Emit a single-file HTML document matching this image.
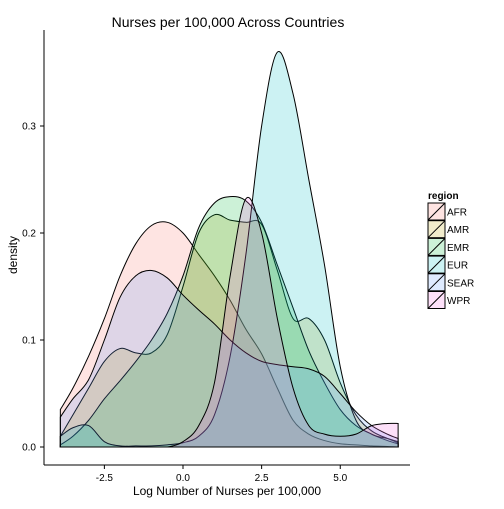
<!DOCTYPE html>
<html><head><meta charset="utf-8"><style>
body{margin:0;background:#fff;font-family:"Liberation Sans",sans-serif}
svg text{font-family:"Liberation Sans",sans-serif}
</style></head><body>
<svg id="chart" width="504" height="504" xmlns="http://www.w3.org/2000/svg">
<text x="228" y="27" font-size="14" text-anchor="middle">Nurses per 100,000 Across Countries</text>
<g id="plot"></g>
<line x1="44" y1="30" x2="44" y2="465" stroke="#000" stroke-width="1"/>
<line x1="44" y1="465" x2="410" y2="465" stroke="#000" stroke-width="1"/>
<g id="axes"></g>
<text x="227" y="495" font-size="12" text-anchor="middle">Log Number of Nurses per 100,000</text>
<text transform="translate(17,255) rotate(-90)" font-size="12" text-anchor="middle">density</text>
<g id="legend">
<text x="428" y="199" font-size="10" font-weight="bold">region</text>
</g>
</svg>
<script>
const regions = ["AFR","AMR","EMR","EUR","SEAR","WPR"];
const colors = ["#F8766D","#B79F00","#00BA38","#00BFC4","#619CFF","#F564E3"];
const xGrid = [-3.9,-3.5,-3,-2.5,-2,-1.5,-1,-0.5,0,0.5,1,1.5,2,2.5,3,3.5,4,4.5,5,5.5,6,6.5,6.84];
const afr  = [0.035,0.055,0.085,0.12,0.16,0.19,0.207,0.21,0.2,0.18,0.16,0.137,0.11,0.087,0.055,0.025,0.012,0.006,0.003,0.002,0.001,0.0005,0];
const amr  = [0.01,0.03,0.055,0.08,0.092,0.088,0.088,0.105,0.15,0.2,0.217,0.212,0.21,0.208,0.165,0.12,0.12,0.1,0.06,0.03,0.015,0.008,0.004];
const emr  = [0.002,0.01,0.025,0.045,0.062,0.08,0.1,0.125,0.16,0.205,0.228,0.234,0.23,0.21,0.17,0.13,0.09,0.06,0.035,0.02,0.012,0.006,0.003];
const eur  = [0.01,0.018,0.02,0.005,0.001,0.001,0.001,0.002,0.004,0.01,0.03,0.085,0.18,0.3,0.369,0.33,0.25,0.17,0.075,0.025,0.012,0.008,0.005];
const sear = [0.028,0.045,0.063,0.1,0.14,0.16,0.165,0.158,0.142,0.128,0.115,0.1,0.088,0.08,0.077,0.075,0.073,0.066,0.05,0.033,0.02,0.012,0.008];
const wpr  = [0,0,0,0,0,0,0,0,0.005,0.02,0.06,0.16,0.232,0.2,0.12,0.055,0.02,0.012,0.01,0.012,0.02,0.022,0.022];
const xTicks = [-2.5,0,2.5,5];
const xTickLabels = ["-2.5","0.0","2.5","5.0"];
const yTicks = [0,0.1,0.2,0.3];
const yTickLabels = ["0.0","0.1","0.2","0.3"];

const NS="http://www.w3.org/2000/svg";
function sx(v){return 183+v*31.45;}
function sy(v){return 447-v*1070;}
const series=[afr,amr,emr,eur,sear,wpr];
const plot=document.getElementById('plot');
series.forEach((vals,k)=>{
  const pts=xGrid.map((x,i)=>[sx(x),sy(vals[i])]);
  let d="M"+sx(xGrid[0])+","+sy(0)+" L"+pts[0][0]+","+pts[0][1];
  for(let i=0;i<pts.length-1;i++){
    const p0=pts[Math.max(0,i-1)],p1=pts[i],p2=pts[i+1],p3=pts[Math.min(pts.length-1,i+2)];
    const c1=[p1[0]+(p2[0]-p0[0])/6,Math.min(sy(0),p1[1]+(p2[1]-p0[1])/6)];
    const c2=[p2[0]-(p3[0]-p1[0])/6,Math.min(sy(0),p2[1]-(p3[1]-p1[1])/6)];
    d+=" C"+c1[0]+","+c1[1]+" "+c2[0]+","+c2[1]+" "+p2[0]+","+p2[1];
  }
  d+=" L"+sx(xGrid[xGrid.length-1])+","+sy(0)+" Z";
  const p=document.createElementNS(NS,'path');
  p.setAttribute('d',d);
  p.setAttribute('fill',colors[k]);
  p.setAttribute('fill-opacity','0.2');
  p.setAttribute('stroke','#000');
  p.setAttribute('stroke-width','1');
  
  
  plot.appendChild(p);
});
const axes=document.getElementById('axes');
xTicks.forEach((v,i)=>{
  const l=document.createElementNS(NS,'line');
  l.setAttribute('x1',sx(v));l.setAttribute('x2',sx(v));l.setAttribute('y1',465);l.setAttribute('y2',469);l.setAttribute('stroke','#000');
  
  
  axes.appendChild(l);
  const t=document.createElementNS(NS,'text');
  t.setAttribute('x',sx(v));t.setAttribute('y',481);t.setAttribute('font-size','10');t.setAttribute('text-anchor','middle');
  t.textContent=xTickLabels[i];
  
  
  axes.appendChild(t);
});
yTicks.forEach((v,i)=>{
  const l=document.createElementNS(NS,'line');
  l.setAttribute('x1',40);l.setAttribute('x2',44);l.setAttribute('y1',sy(v));l.setAttribute('y2',sy(v));l.setAttribute('stroke','#000');
  
  
  axes.appendChild(l);
  const t=document.createElementNS(NS,'text');
  t.setAttribute('x',36);t.setAttribute('y',sy(v)+3.5);t.setAttribute('font-size','10');t.setAttribute('text-anchor','end');
  t.textContent=yTickLabels[i];
  
  
  axes.appendChild(t);
});
const lg=document.getElementById('legend');
regions.forEach((r,k)=>{
  const y=203+k*17.7;
  const g=document.createElementNS(NS,'g');
  
  
  const rc=document.createElementNS(NS,'rect');
  rc.setAttribute('x',428);rc.setAttribute('y',y);rc.setAttribute('width',17);rc.setAttribute('height',17);
  rc.setAttribute('fill',colors[k]);rc.setAttribute('fill-opacity','0.2');rc.setAttribute('stroke','#000');
  g.appendChild(rc);
  const ln=document.createElementNS(NS,'line');
  ln.setAttribute('x1',428);ln.setAttribute('y1',y+17);ln.setAttribute('x2',445);ln.setAttribute('y2',y);ln.setAttribute('stroke','#000');
  g.appendChild(ln);
  const t=document.createElementNS(NS,'text');
  t.setAttribute('x',447);t.setAttribute('y',y+12.5);t.setAttribute('font-size','10');
  t.textContent=r;
  g.appendChild(t);
  lg.appendChild(g);
});
</script>
</body></html>
